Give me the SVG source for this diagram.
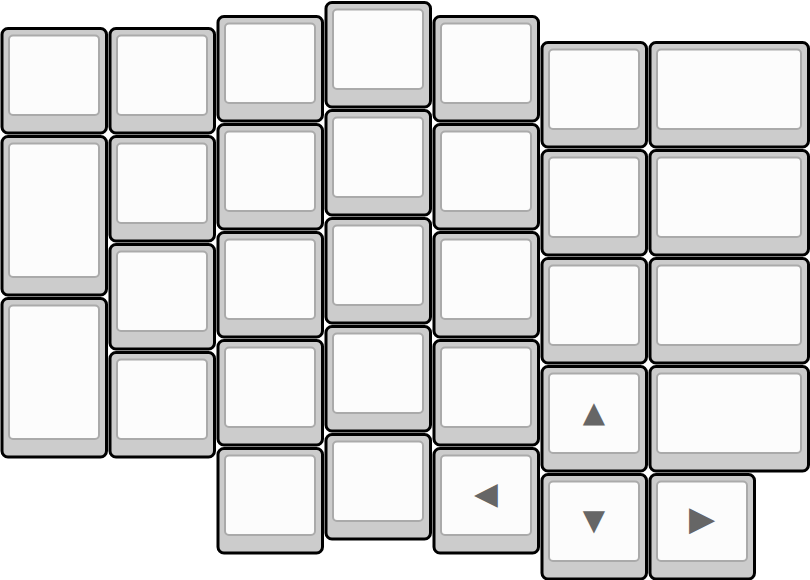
<svg xmlns="http://www.w3.org/2000/svg" width="810" height="580" viewBox="0 0 810 580">
<style>
.o{fill:#cccccc;stroke:#000000;stroke-width:3}
.i{fill:#fcfcfc;stroke:#aaaaaa;stroke-width:2}
.a{font-family:"DejaVu Sans",sans-serif;font-size:29px;fill:#666666;text-anchor:middle;dominant-baseline:central}
</style>
<rect x="0" y="0" width="810" height="580" fill="#ffffff"/>
<g id="keys">
<g id="k0-0" transform="translate(0,26.5)"><rect class="o" x="2" y="2" width="104.5" height="104.5" rx="6"/><rect class="i" x="9" y="9" width="90" height="79.5" rx="4"/></g>
<g id="k0-1" transform="translate(0,134.5)"><rect class="o" x="2" y="2" width="104.5" height="158.5" rx="6"/><rect class="i" x="9" y="9" width="90" height="133.5" rx="4"/></g>
<g id="k0-2" transform="translate(0,296.5)"><rect class="o" x="2" y="2" width="104.5" height="158.5" rx="6"/><rect class="i" x="9" y="9" width="90" height="133.5" rx="4"/></g>

<g id="k1-0" transform="translate(108,26.5)"><rect class="o" x="2" y="2" width="104.5" height="104.5" rx="6"/><rect class="i" x="9" y="9" width="90" height="79.5" rx="4"/></g>
<g id="k1-1" transform="translate(108,134.5)"><rect class="o" x="2" y="2" width="104.5" height="104.5" rx="6"/><rect class="i" x="9" y="9" width="90" height="79.5" rx="4"/></g>
<g id="k1-2" transform="translate(108,242.5)"><rect class="o" x="2" y="2" width="104.5" height="104.5" rx="6"/><rect class="i" x="9" y="9" width="90" height="79.5" rx="4"/></g>
<g id="k1-3" transform="translate(108,350.5)"><rect class="o" x="2" y="2" width="104.5" height="104.5" rx="6"/><rect class="i" x="9" y="9" width="90" height="79.5" rx="4"/></g>

<g id="k2-0" transform="translate(216,14.5)"><rect class="o" x="2" y="2" width="104.5" height="104.5" rx="6"/><rect class="i" x="9" y="9" width="90" height="79.5" rx="4"/></g>
<g id="k2-1" transform="translate(216,122.5)"><rect class="o" x="2" y="2" width="104.5" height="104.5" rx="6"/><rect class="i" x="9" y="9" width="90" height="79.5" rx="4"/></g>
<g id="k2-2" transform="translate(216,230.5)"><rect class="o" x="2" y="2" width="104.5" height="104.5" rx="6"/><rect class="i" x="9" y="9" width="90" height="79.5" rx="4"/></g>
<g id="k2-3" transform="translate(216,338.5)"><rect class="o" x="2" y="2" width="104.5" height="104.5" rx="6"/><rect class="i" x="9" y="9" width="90" height="79.5" rx="4"/></g>
<g id="k2-4" transform="translate(216,446.5)"><rect class="o" x="2" y="2" width="104.5" height="104.5" rx="6"/><rect class="i" x="9" y="9" width="90" height="79.5" rx="4"/></g>

<g id="k3-0" transform="translate(324,0.5)"><rect class="o" x="2" y="2" width="104.5" height="104.5" rx="6"/><rect class="i" x="9" y="9" width="90" height="79.5" rx="4"/></g>
<g id="k3-1" transform="translate(324,108.5)"><rect class="o" x="2" y="2" width="104.5" height="104.5" rx="6"/><rect class="i" x="9" y="9" width="90" height="79.5" rx="4"/></g>
<g id="k3-2" transform="translate(324,216.5)"><rect class="o" x="2" y="2" width="104.5" height="104.5" rx="6"/><rect class="i" x="9" y="9" width="90" height="79.5" rx="4"/></g>
<g id="k3-3" transform="translate(324,324.5)"><rect class="o" x="2" y="2" width="104.5" height="104.5" rx="6"/><rect class="i" x="9" y="9" width="90" height="79.5" rx="4"/></g>
<g id="k3-4" transform="translate(324,432.5)"><rect class="o" x="2" y="2" width="104.5" height="104.5" rx="6"/><rect class="i" x="9" y="9" width="90" height="79.5" rx="4"/></g>

<g id="k4-0" transform="translate(432,14.5)"><rect class="o" x="2" y="2" width="104.5" height="104.5" rx="6"/><rect class="i" x="9" y="9" width="90" height="79.5" rx="4"/></g>
<g id="k4-1" transform="translate(432,122.5)"><rect class="o" x="2" y="2" width="104.5" height="104.5" rx="6"/><rect class="i" x="9" y="9" width="90" height="79.5" rx="4"/></g>
<g id="k4-2" transform="translate(432,230.5)"><rect class="o" x="2" y="2" width="104.5" height="104.5" rx="6"/><rect class="i" x="9" y="9" width="90" height="79.5" rx="4"/></g>
<g id="k4-3" transform="translate(432,338.5)"><rect class="o" x="2" y="2" width="104.5" height="104.5" rx="6"/><rect class="i" x="9" y="9" width="90" height="79.5" rx="4"/></g>
<g id="k4-4" transform="translate(432,446.5)"><rect class="o" x="2" y="2" width="104.5" height="104.5" rx="6"/><rect class="i" x="9" y="9" width="90" height="79.5" rx="4"/><text class="a" x="54" y="46.5" style="font-size:31px">◀</text></g>

<g id="k5-0" transform="translate(540,40.5)"><rect class="o" x="2" y="2" width="104.5" height="104.5" rx="6"/><rect class="i" x="9" y="9" width="90" height="79.5" rx="4"/></g>
<g id="k5-1" transform="translate(540,148.5)"><rect class="o" x="2" y="2" width="104.5" height="104.5" rx="6"/><rect class="i" x="9" y="9" width="90" height="79.5" rx="4"/></g>
<g id="k5-2" transform="translate(540,256.5)"><rect class="o" x="2" y="2" width="104.5" height="104.5" rx="6"/><rect class="i" x="9" y="9" width="90" height="79.5" rx="4"/></g>
<g id="k5-3" transform="translate(540,364.5)"><rect class="o" x="2" y="2" width="104.5" height="104.5" rx="6"/><rect class="i" x="9" y="9" width="90" height="79.5" rx="4"/><text class="a" x="54" y="47.5">▲</text></g>
<g id="k5-4" transform="translate(540,472.5)"><rect class="o" x="2" y="2" width="104.5" height="104.5" rx="6"/><rect class="i" x="9" y="9" width="90" height="79.5" rx="4"/><text class="a" x="54" y="47.5">▼</text></g>

<g id="k6-0" transform="translate(648,40.5)"><rect class="o" x="2" y="2" width="158.5" height="104.5" rx="6"/><rect class="i" x="9" y="9" width="144" height="79.5" rx="4"/></g>
<g id="k6-1" transform="translate(648,148.5)"><rect class="o" x="2" y="2" width="158.5" height="104.5" rx="6"/><rect class="i" x="9" y="9" width="144" height="79.5" rx="4"/></g>
<g id="k6-2" transform="translate(648,256.5)"><rect class="o" x="2" y="2" width="158.5" height="104.5" rx="6"/><rect class="i" x="9" y="9" width="144" height="79.5" rx="4"/></g>
<g id="k6-3" transform="translate(648,364.5)"><rect class="o" x="2" y="2" width="158.5" height="104.5" rx="6"/><rect class="i" x="9" y="9" width="144" height="79.5" rx="4"/></g>
<g id="k6-4" transform="translate(648,472.5)"><rect class="o" x="2" y="2" width="104.5" height="104.5" rx="6"/><rect class="i" x="9" y="9" width="90" height="79.5" rx="4"/><text class="a" x="54" y="45.5" style="font-size:34px">▶</text></g>
</g>
</svg>
